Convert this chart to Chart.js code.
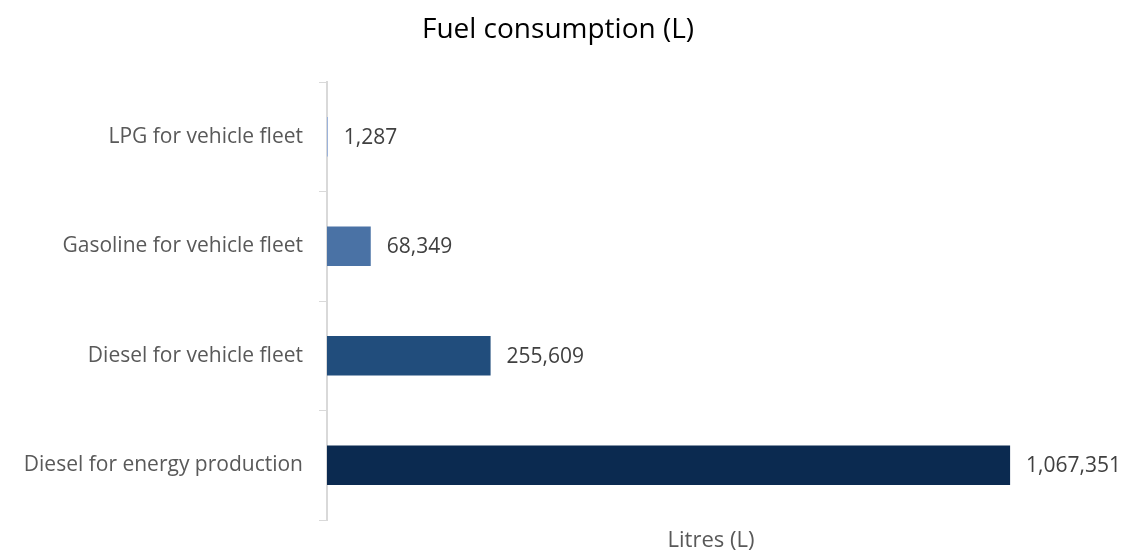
<!DOCTYPE html>
<html>
<head>
<meta charset="utf-8">
<script src="https://cdn.jsdelivr.net/npm/chart.js@4"></script>
<style>
  html, body { margin: 0; padding: 0; background: #fff; }
  #wrap { width: 1141px; height: 554px; }
</style>
</head>
<body>
<div id="wrap"><canvas id="fuelChart"></canvas></div>
<script>
const categories = ["LPG for vehicle fleet", "Gasoline for vehicle fleet", "Diesel for vehicle fleet", "Diesel for energy production"];
const litres = [1287, 68349, 255609, 1067351];
const barColours = ["#8eaadb", "#4a72a5", "#214d7c", "#0b2a50"];
const chartTitle = "Fuel consumption (L)";
const FONT = "'Open Sans', 'Noto Sans', sans-serif";

// value labels just right of each bar end
const valueLabels = {
  id: "valueLabels",
  afterDatasetsDraw(chart) {
    const ctx = chart.ctx;
    const meta = chart.getDatasetMeta(0);
    ctx.save();
    ctx.font = "21px " + FONT;
    ctx.fillStyle = "#404040";
    ctx.textBaseline = "middle";
    ctx.textAlign = "left";
    meta.data.forEach((bar, i) => {
      ctx.fillText(litres[i].toLocaleString("en-US"), bar.x + 16, bar.y + 1);
    });
    ctx.restore();
  }
};

// title drawn over the whole figure, not just the padded box
const figureTitle = {
  id: "figureTitle",
  afterDraw(chart) {
    const ctx = chart.ctx;
    ctx.save();
    ctx.font = "28px " + FONT;
    ctx.fillStyle = "#000";
    ctx.textAlign = "center";
    ctx.textBaseline = "middle";
    ctx.fillText(chartTitle, 558, 30);
    ctx.restore();
  }
};

new Chart(document.getElementById("fuelChart"), {
  type: "bar",
  data: {
    labels: categories,
    datasets: [{
      data: litres,
      backgroundColor: barColours,
      categoryPercentage: 1,
      barPercentage: 0.36
    }]
  },
  options: {
    indexAxis: "y",
    responsive: true,
    maintainAspectRatio: false,
    animation: false,
    layout: { padding: { left: 0, right: 46, top: 82, bottom: 0 } },
    plugins: {
      legend: { display: false },
      tooltip: { enabled: false },
      title: { display: false }
    },
    scales: {
      x: {
        min: 0,
        max: 1200000,
        grid: { display: false },
        border: { display: false },
        ticks: { display: false },
        title: {
          display: true,
          text: "Litres (L)",
          color: "#595959",
          font: { family: FONT, size: 22 },
          padding: { top: 0, bottom: 0 }
        },
        afterFit(scale) { scale.height = 34; }
      },
      y: {
        grid: {
          display: true,
          drawOnChartArea: false,
          offset: true,
          tickLength: 8,
          color: "#d9d9d9",
          lineWidth: 1
        },
        border: { display: true, color: "#d9d9d9", width: 2 },
        ticks: {
          color: "#595959",
          padding: 16,
          font: { family: FONT, size: 21 }
        },
        afterFit(scale) { scale.width = 327; }
      }
    }
  },
  plugins: [valueLabels, figureTitle]
});
</script>
</body>
</html>
